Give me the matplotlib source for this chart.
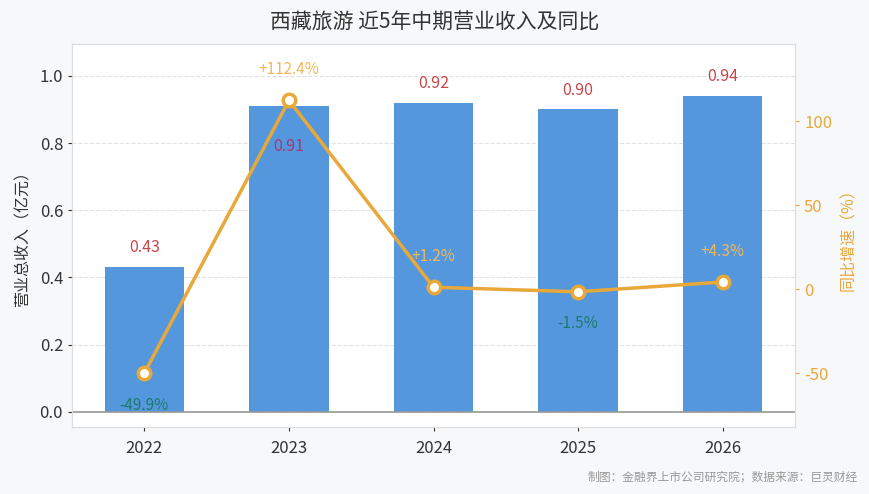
import matplotlib
matplotlib.use('Agg')
import matplotlib.pyplot as plt

plt.rcParams['font.family'] = ['Noto Sans CJK SC', 'DejaVu Sans']
plt.rcParams['axes.unicode_minus'] = False

years = ['2022', '2023', '2024', '2025', '2026']
revenue = [0.43, 0.91, 0.92, 0.90, 0.94]  # 亿元
growth = [-49.9, 112.4, 1.2, -1.5, 4.3]  # %

bar_color = '#5597dd'
line_color = '#e8a83a'
red = '#c8464a'

fig = plt.figure(figsize=(8.7, 4.94), dpi=100, facecolor='#f7f8fa')
ax = fig.add_axes([0.0828, 0.1356, 0.831, 0.7754])
ax.set_facecolor('white')
x = list(range(len(years)))

ax.bar(x, revenue, width=0.55, color=bar_color, zorder=2)
ax.axhline(0, color='#999999', lw=1.2, zorder=3)
ax.set_xlim(-0.5, 4.5)
ax.set_ylim(-0.045, 1.095)
ax.set_yticks([0.0, 0.2, 0.4, 0.6, 0.8, 1.0])
ax.set_yticklabels(['0.0', '0.2', '0.4', '0.6', '0.8', '1.0'])
ax.set_xticks(x)
ax.set_xticklabels(years)
ax.grid(axis='y', ls='--', color='#e2e2e2', lw=0.8, zorder=0)
ax.tick_params(axis='both', labelsize=12, colors='#333333', length=3)
ax.tick_params(axis='x', pad=6)
for s in ax.spines.values():
    s.set_color('#dddddd')
ax.set_ylabel('营业总收入（亿元）', fontsize=11.5, color='#333333', labelpad=6)

for i, v in enumerate(revenue):
    if i == 1:
        ax.annotate(f'{v:.2f}', (i, v), xytext=(0, -29), textcoords='offset points',
                    ha='center', va='center', fontsize=11.5, color='#a03a78', zorder=6)
    else:
        ax.annotate(f'{v:.2f}', (i, v), xytext=(0, 14), textcoords='offset points',
                    ha='center', va='center', fontsize=11.5, color=red, zorder=6)

ax2 = ax.twinx()
ax2.plot(x, growth, color=line_color, lw=2.5, marker='o', markersize=9,
         markerfacecolor='white', markeredgecolor=line_color, markeredgewidth=2.5, zorder=5)
ax2.set_ylim(-82, 146)
ax2.set_yticks([-50, 0, 50, 100])
ax2.tick_params(axis='y', labelsize=12, colors=line_color, length=3)
for s in ax2.spines.values():
    s.set_color('#dddddd')
ax2.set_ylabel('同比增速（%）', fontsize=11.5, color=line_color, rotation=90, labelpad=6)

for i, g in enumerate(growth):
    if g >= 0:
        ax2.annotate(f'+{g:.1f}%', (i, g), xytext=(0, 22), textcoords='offset points',
                     ha='center', va='center', fontsize=11, color='#f0b85a', zorder=6)
    else:
        ax2.annotate(f'{g:.1f}%', (i, g), xytext=(0, -23), textcoords='offset points',
                     ha='center', va='center', fontsize=11, color='#1c7a6c', zorder=6)

fig.text(0.5, 0.955, '西藏旅游 近5年中期营业收入及同比', ha='center', va='center',
         fontsize=15, color='#333333')
fig.text(0.986, 0.035, '制图：金融界上市公司研究院；数据来源：巨灵财经', ha='right', va='center',
         fontsize=8.5, color='#999999')

fig.savefig('out.png', dpi=100, facecolor=fig.get_facecolor())
